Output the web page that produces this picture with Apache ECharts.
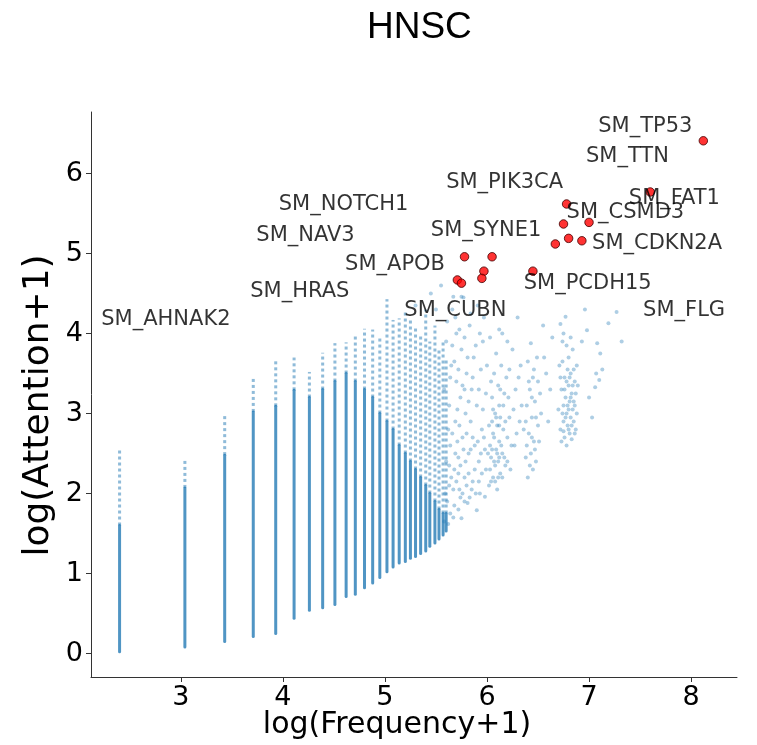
<!DOCTYPE html>
<html>
<head>
<meta charset="utf-8">
<script src="https://cdn.jsdelivr.net/npm/echarts@6/dist/echarts.min.js"></script>
<style>html,body{margin:0;padding:0;background:#fff}#c{width:757px;height:745px}</style>
</head>
<body>
<div id="c"></div>
<script>
// ---- data ----
const titleText = 'HNSC';
const xName = 'log(Frequency+1)';
const yName = 'log(Attention+1)';
const xTicks = [3, 4, 5, 6, 7, 8];
const yTicks = [0, 1, 2, 3, 4, 5, 6];

// vertical point columns (frequency = 10, 20, 30, ...): x, lowest y, top of dense part, highest y
const colX     = [2.40, 3.04, 3.43, 3.71, 3.93, 4.11, 4.26, 4.39, 4.51, 4.62, 4.71, 4.80, 4.88, 4.95, 5.02, 5.08, 5.14, 5.20, 5.25, 5.30, 5.35, 5.40, 5.44, 5.49, 5.53, 5.57, 5.60];
const colMin   = [0.04, 0.10, 0.17, 0.23, 0.27, 0.46, 0.56, 0.59, 0.63, 0.73, 0.76, 0.84, 0.90, 0.97, 1.04, 1.10, 1.15, 1.17, 1.21, 1.23, 1.27, 1.30, 1.36, 1.40, 1.45, 1.50, 1.55];
const colDense = [1.60, 2.07, 2.48, 3.02, 3.09, 3.29, 3.20, 3.30, 3.40, 3.50, 3.40, 3.30, 3.20, 3.00, 2.90, 2.80, 2.60, 2.50, 2.40, 2.30, 2.20, 2.10, 2.00, 1.90, 1.80, 1.75, 1.75];
const colMax   = [2.57, 2.43, 2.97, 3.45, 3.67, 3.70, 3.52, 3.76, 3.88, 3.89, 3.97, 4.06, 4.05, 3.95, 4.43, 4.17, 4.19, 4.28, 4.19, 4.10, 4.00, 4.30, 3.90, 4.10, 3.80, 3.90, 3.70];

// scattered points at high frequency
const spreadPts = [
  [5.30,4.35],[5.45,4.50],[5.55,4.60],[5.67,4.46],[5.75,4.46],[5.50,4.30],
  [5.62,1.62],[5.63,2.10],[5.64,2.60],[5.63,3.10],[5.65,3.60],[5.66,4.30],[5.67,1.70],[5.68,2.30],[5.69,2.90],[5.70,3.40],[5.70,4.00],
  [5.72,1.80],[5.72,2.45],[5.73,2.05],[5.74,3.20],[5.75,3.80],[5.75,1.69],[5.76,2.70],[5.77,4.45],[5.78,2.20],[5.79,3.00],[5.80,3.50],
  [5.81,1.88],[5.82,2.50],[5.83,4.10],[5.84,2.90],[5.85,3.30],[5.86,2.15],[5.87,3.70],[5.88,2.60],[5.90,1.79],[5.90,3.10],[5.91,4.35],
  [5.92,2.40],[5.93,2.00],[5.94,3.55],[5.95,2.80],[5.96,3.90],[5.98,1.96],[5.98,2.55],[5.99,3.25],
  [5.58,1.65],[5.59,2.00],[5.60,2.40],[5.61,1.90],[5.62,2.80],[5.63,2.35],[5.64,1.75],[5.65,2.20],[5.66,2.75],[5.67,2.05],[5.68,1.85],
  [5.69,2.50],[5.70,2.15],[5.71,2.65],[5.71,3.05],[5.72,2.25],[5.73,2.85],[5.74,1.95],[5.74,2.35],[5.76,2.00],[5.77,2.55],[5.78,1.90],
  [5.78,3.30],[5.79,2.40],[5.80,2.10],[5.80,2.75],[5.82,2.25],[5.83,1.95],[5.84,2.55],[5.85,2.05],[5.86,2.70],[5.88,2.30],[5.89,2.00],
  [5.91,2.65],[5.92,2.15],[5.94,2.50],[5.95,2.25],[5.97,2.70],[5.99,2.30],
  [5.58,3.30],[5.60,3.90],[5.61,4.15],[5.64,3.45],[5.66,3.85],[5.68,3.65],[5.69,4.20],[5.72,3.55],[5.73,4.05],[5.76,3.35],[5.78,3.95],
  [5.81,3.70],[5.82,3.15],[5.84,4.25],[5.86,3.45],[5.89,3.85],[5.92,3.30],[5.93,4.00],[5.96,3.05],[5.97,4.20],[6.00,3.60],
  [6.02,2.10],[6.03,2.30],[6.03,2.60],[6.04,2.45],[6.05,2.90],[6.05,3.20],[6.06,2.20],[6.06,2.75],[6.07,3.50],[6.08,2.35],[6.08,3.00],
  [6.09,2.55],[6.09,3.75],[6.10,2.05],[6.10,2.85],[6.11,2.40],[6.11,3.35],[6.12,2.65],[6.12,3.10],[6.13,2.25],[6.13,2.95],[6.14,3.60],
  [6.15,2.50],[6.15,4.00],[6.16,2.80],[6.17,3.25],[6.18,2.35],[6.19,3.45],[6.20,2.70],[6.22,2.95],[6.23,2.30],[6.25,3.80],[6.27,2.60],
  [6.28,3.30],[6.30,4.20],[6.32,2.90],[6.33,3.60],
  [6.01,2.50],[6.02,2.85],[6.04,2.15],[6.04,3.40],[6.05,2.55],[6.06,3.05],[6.07,2.40],[6.07,2.70],[6.08,2.15],[6.09,2.95],[6.10,2.50],
  [6.11,2.20],[6.12,2.85],[6.12,2.45],[6.13,3.30],[6.14,2.60],[6.15,2.20],[6.16,3.10],[6.17,2.45],[6.18,2.90],[6.20,2.40],[6.21,3.20],
  [6.24,2.60],[6.26,3.05],[6.29,2.75],[6.31,3.45],[6.34,3.10],[6.36,2.80],[6.20,3.90],[6.12,4.05],[6.22,3.55],[6.03,3.95],
  [6.38,2.45],[6.39,3.10],[6.40,2.20],[6.40,3.65],[6.41,2.75],[6.42,3.30],[6.43,2.50],[6.43,3.88],[6.44,2.95],[6.45,2.30],[6.45,3.45],
  [6.46,2.65],[6.47,3.15],[6.48,2.40],[6.49,3.70],[6.50,2.85],[6.52,3.25],[6.55,4.10],[6.58,3.50],[6.60,2.90],
  [6.38,2.90],[6.39,2.60],[6.41,3.40],[6.42,2.35],[6.44,3.20],[6.44,2.70],[6.46,3.55],[6.47,2.55],[6.48,2.95],[6.50,3.40],[6.51,2.65],
  [6.53,3.00],[6.56,3.70],[6.62,3.30],[6.64,3.95],
  [6.70,3.05],[6.71,3.60],[6.72,2.80],[6.73,3.30],[6.73,2.65],[6.74,3.90],[6.75,3.10],[6.75,2.90],[6.76,3.45],[6.76,2.70],[6.77,3.20],
  [6.77,4.21],[6.78,2.60],[6.78,3.00],[6.79,3.55],[6.79,2.85],[6.80,3.35],[6.80,3.70],[6.81,2.75],[6.81,3.15],[6.82,2.95],[6.82,3.50],
  [6.83,3.25],[6.83,2.68],[6.84,3.05],[6.84,3.80],[6.85,2.90],[6.86,3.40],[6.86,3.10],[6.87,2.80],[6.88,3.60],[6.88,3.00],
  [6.72,3.45],[6.74,3.00],[6.74,3.65],[6.75,2.78],[6.76,3.30],[6.77,2.95],[6.78,3.40],[6.79,3.10],[6.80,2.80],[6.80,3.05],[6.81,3.45],
  [6.82,3.20],[6.83,2.85],[6.84,3.35],[6.85,3.15],[6.85,3.55],[6.86,2.75],[6.87,3.25],[6.75,4.00],[6.82,3.95],[6.78,3.85],[6.72,4.12],
  [6.89,3.35],
  [6.93,3.90],[6.96,4.30],[6.98,4.04],[7.00,3.20],[7.03,2.95],[7.06,3.33],[7.07,3.50],[7.08,3.88],[7.10,3.42],[7.11,3.75],[7.13,3.55],
  [7.19,4.13],[7.27,4.27],[7.32,3.90]
];

// highlighted genes (red points)
const geneX = [8.12, 7.60, 6.78, 6.75, 7.00, 6.67, 6.80, 6.93, 5.78, 6.05, 5.97, 5.95, 5.71, 5.75, 6.45];
const geneY = [6.41, 5.77, 5.62, 5.37, 5.39, 5.12, 5.19, 5.16, 4.96, 4.96, 4.78, 4.69, 4.67, 4.63, 4.78];

// gene text labels: name and anchor (left edge, vertical middle) in data units
const labelNames = ['SM_TP53','SM_TTN','SM_PIK3CA','SM_FAT1','SM_NOTCH1','SM_CSMD3','SM_SYNE1','SM_NAV3','SM_CDKN2A','SM_APOB','SM_PCDH15','SM_HRAS','SM_CUBN','SM_FLG','SM_AHNAK2'];
const labelX = [7.09, 6.97, 5.60, 7.39, 3.96, 6.78, 5.45, 3.74, 7.03, 4.61, 6.36, 3.68, 5.19, 7.53, 2.22];
const labelY = [6.59, 6.21, 5.89, 5.69, 5.61, 5.51, 5.29, 5.22, 5.13, 4.86, 4.63, 4.52, 4.29, 4.29, 4.17];

// ---- chart ----
const BLUE = '31,119,180';
const colData = colX.map((x, i) => [x, colMin[i], colDense[i], colMax[i]]);
const geneData = geneX.map((x, i) => [x, geneY[i]]);
const labelData = labelNames.map((n, i) => ({ name: n, value: [labelX[i], labelY[i]] }));

const chart = echarts.init(document.getElementById('c'), null, { renderer: 'canvas' });
chart.setOption({
  animation: false,
  backgroundColor: '#fff',
  title: {
    text: titleText, left: 362, top: 4,
    textStyle: { fontFamily: 'Liberation Sans', fontSize: 37, fontWeight: 'normal', color: '#000' }
  },
  grid: { left: 91, top: 112, width: 646, height: 565, containLabel: false, outerBoundsMode: 'none' },
  xAxis: {
    type: 'value', min: 2.12, max: 8.45,
    name: xName, nameLocation: 'middle', nameGap: 33, nameMoveOverlap: false,
    nameTextStyle: { fontFamily: 'DejaVu Sans', fontSize: 30, color: '#000', padding: [0, 34, 0, 0] },
    axisLine: { show: true, onZero: false, lineStyle: { color: '#333', width: 1 } },
    axisTick: { show: true, inside: false, length: 5, customValues: xTicks, lineStyle: { color: '#333' } },
    axisLabel: { customValues: xTicks, margin: 7, fontFamily: 'DejaVu Sans', fontSize: 27, color: '#000' },
    splitLine: { show: false }
  },
  yAxis: {
    type: 'value', min: -0.294, max: 6.77,
    name: yName, nameLocation: 'middle', nameGap: 34, nameRotate: 90, nameMoveOverlap: false,
    nameTextStyle: { fontFamily: 'DejaVu Sans', fontSize: 36, color: '#000', padding: [0, 22, 0, 0] },
    axisLine: { show: true, onZero: false, lineStyle: { color: '#333', width: 1 } },
    axisTick: { show: true, inside: false, length: 5, customValues: yTicks, lineStyle: { color: '#333' } },
    axisLabel: { customValues: yTicks, margin: 8, fontFamily: 'DejaVu Sans', fontSize: 27, color: '#000' },
    splitLine: { show: false }
  },
  series: [
    {
      type: 'custom',
      data: colData,
      encode: { x: 0, y: [1, 3] },
      renderItem: function (params, api) {
        const x = api.value(0);
        const p0 = api.coord([x, api.value(1)]);
        const pm = api.coord([x, api.value(2)]);
        const p1 = api.coord([x, api.value(3)]);
        return {
          type: 'group',
          children: [
            { type: 'line', shape: { x1: pm[0], y1: pm[1], x2: p1[0], y2: p1[1] },
              style: { stroke: 'rgba(' + BLUE + ',0.5)', lineWidth: 3, lineDash: [3, 3] } },
            { type: 'line', shape: { x1: p0[0], y1: p0[1] + 1.5, x2: pm[0], y2: pm[1] },
              style: { stroke: 'rgba(' + BLUE + ',0.78)', lineWidth: 3, lineCap: 'round' } }
          ]
        };
      },
      z: 2
    },
    {
      type: 'scatter',
      data: spreadPts,
      symbolSize: 4,
      itemStyle: { color: 'rgba(' + BLUE + ',0.45)' },
      z: 3
    },
    {
      type: 'scatter',
      data: geneData,
      symbolSize: 8.5,
      itemStyle: { color: '#ff0000', borderColor: '#400000', borderWidth: 1 },
      z: 5
    },
    {
      type: 'scatter',
      data: labelData,
      symbolSize: 0,
      silent: true,
      label: {
        show: true, position: 'right', distance: 0,
        formatter: p => p.name,
        fontFamily: 'DejaVu Sans', fontSize: 21, color: '#000',
        align: 'left', verticalAlign: 'middle'
      },
      z: 6
    }
  ]
});
</script>
</body>
</html>
